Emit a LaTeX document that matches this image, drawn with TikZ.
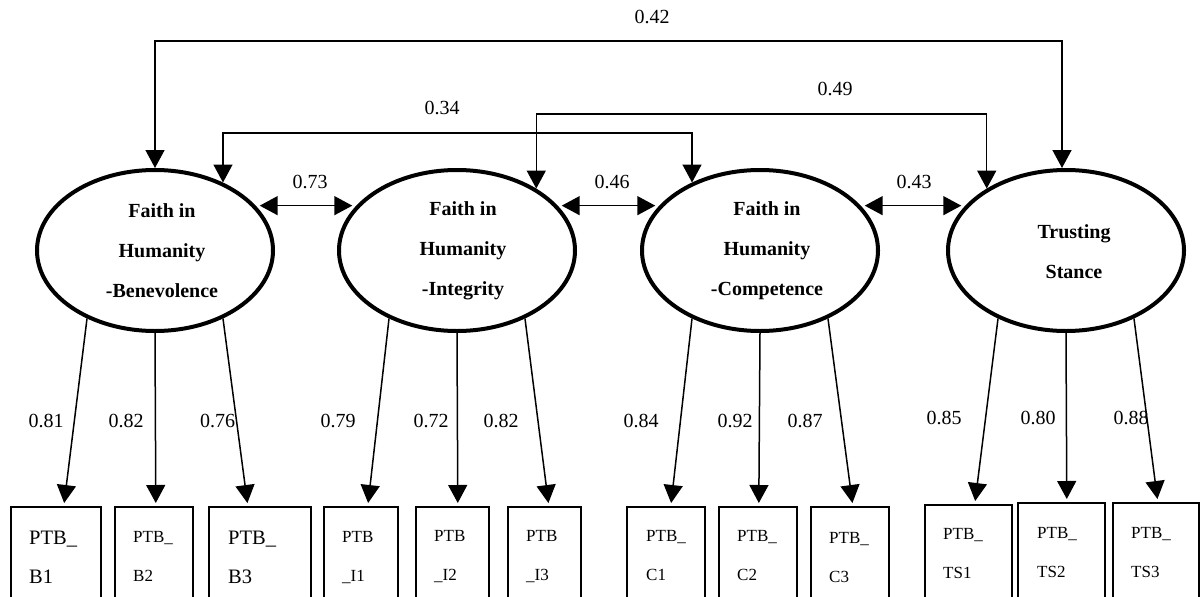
\documentclass[tikz,border=0pt]{standalone}
\usepackage{fontspec}
\setmainfont{Liberation Serif}
\usetikzlibrary{arrows.meta,shapes.geometric,calc}
\begin{document}
\begin{tikzpicture}[x=1pt,y=-1pt,
  latent/.style={ellipse, draw, line width=4pt, minimum width=236pt, minimum height=161pt, inner sep=0pt},
  lattext/.style={align=center, font=\fontsize{20}{40}\selectfont\bfseries, inner sep=0pt},
  obs/.style={rectangle, draw, line width=1.6pt, anchor=north west, minimum height=130pt, inner sep=0pt},
  itemA/.style={anchor=west, align=left, inner sep=0pt, font=\fontsize{20.5}{39}\selectfont},
  itemB/.style={anchor=west, align=left, inner sep=0pt, font=\fontsize{17}{39}\selectfont},
  load/.style={line width=1.5pt, -{Triangle[length=18pt,width=19pt]}, shorten >=3pt},
  cov/.style={line width=1.5pt, {Triangle[length=18pt,width=19pt]}-{Triangle[length=18pt,width=19pt]}},
  coef/.style={font=\fontsize{20}{24}\selectfont, inner sep=0pt},
]
\useasboundingbox (0,0) rectangle (1200,597);
\clip (0,0) rectangle (1200,597);

% latent factors
\node[latent] (E1) at (155,250.5) {};
\node[latent] (E2) at (457,250.5) {};
\node[latent] (E3) at (760,250.5) {};
\node[latent] (E4) at (1066,250.5) {};
\node[lattext] (t1) at ([xshift=7pt]E1.center) {Faith in\\Humanity\\-Benevolence};
\node[lattext] (t2) at ([xshift=6pt]E2.center) {Faith in\\Humanity\\-Integrity};
\node[lattext] (t3) at ([xshift=7pt]E3.center) {Faith in\\Humanity\\-Competence};
\node[lattext] (t4) at ([xshift=8pt,yshift=-1pt]E4.center) {Trusting\\Stance};

% observed indicators
\node[obs, minimum width=90pt] (b1) at (10,506) {};
\node[obs, minimum width=78pt] (b2) at (114,506) {};
\node[obs, minimum width=102pt] (b3) at (208,506) {};
\node[obs, minimum width=74pt] (i1) at (323,506) {};
\node[obs, minimum width=73pt] (i2) at (415,506) {};
\node[obs, minimum width=73pt] (i3) at (507,506) {};
\node[obs, minimum width=78pt] (c1) at (626,506) {};
\node[obs, minimum width=78pt] (c2) at (718,506) {};
\node[obs, minimum width=78pt] (c3) at (810,506) {};
\node[obs, minimum width=87pt] (s1) at (924,504) {};
\node[obs, minimum width=87pt] (s2) at (1017,502) {};
\node[obs, minimum width=86pt] (s3) at (1112,502) {};

\node[itemA] (lb1) at ($(b1.north west)+(19,51.5)$) {PTB\_\\B1};
\node[itemB] (lb2) at ($(b2.north west)+(19,50.5)$) {PTB\_\\B2};
\node[itemA] (lb3) at ($(b3.north west)+(20,51.5)$) {PTB\_\\B3};
\node[itemB] (li1) at ($(i1.north west)+(19,51.5)$) {PTB\\\_I1};
\node[itemB] (li2) at ($(i2.north west)+(19,51)$) {PTB\\\_I2};
\node[itemB] (li3) at ($(i3.north west)+(19,51)$) {PTB\\\_I3};
\node[itemB] (lc1) at ($(c1.north west)+(20,50)$) {PTB\_\\C1};
\node[itemB] (lc2) at ($(c2.north west)+(19,50)$) {PTB\_\\C2};
\node[itemB] (lc3) at ($(c3.north west)+(19,51.5)$) {PTB\_\\C3};
\node[itemB] (ls1) at ($(s1.north west)+(19,49.5)$) {PTB\_\\TS1};
\node[itemB] (ls2) at ($(s2.north west)+(20,50.5)$) {PTB\_\\TS2};
\node[itemB] (ls3) at ($(s3.north west)+(19,50.5)$) {PTB\_\\TS3};

% factor loadings
\draw[load] (E1.225) -- ([xshift=8pt]b1.north);
\draw[load] (E1.south) -- ([xshift=2pt]b2.north);
\draw[load] (E1.315) -- ([xshift=-12pt]b3.north);
\draw[load] (E2.225) -- ([xshift=7pt]i1.north);
\draw[load] (E2.south) -- ([xshift=5.5pt]i2.north);
\draw[load] (E2.315) -- ([xshift=4.5pt]i3.north);
\draw[load] (E3.225) -- ([xshift=5pt]c1.north);
\draw[load] (E3.south) -- ([xshift=1pt]c2.north);
\draw[load] (E3.315) -- ([xshift=3pt]c3.north);
\draw[load] (E4.225) -- ([xshift=6.5pt]s1.north);
\draw[load] (E4.south) -- ([xshift=5.5pt]s2.north);
\draw[load] (E4.315) -- ([xshift=2pt]s3.north);

\node[coef] (l81) at (46,421) {0.81};
\node[coef] (l82a) at (126,421) {0.82};
\node[coef] (l76) at (217.5,421) {0.76};
\node[coef] (l79) at (338,421) {0.79};
\node[coef] (l72) at (431,421) {0.72};
\node[coef] (l82b) at (501,421) {0.82};
\node[coef] (l84) at (641,421) {0.84};
\node[coef] (l92) at (735,421) {0.92};
\node[coef] (l87) at (805,421) {0.87};
\node[coef] (l85) at (944,418) {0.85};
\node[coef] (l80) at (1038,418) {0.80};
\node[coef] (l88) at (1131,418) {0.88};

% correlations between neighbouring factors
\draw[cov, shorten <=4pt, shorten >=4pt] (E1.24) -- (E2.156);
\draw[cov, shorten <=4pt, shorten >=4pt] (E2.24) -- (E3.156);
\draw[cov, shorten <=4pt, shorten >=4pt] (E3.24) -- (E4.156);
\node[coef] (r73) at (310,182) {0.73};
\node[coef] (r46) at (612,182) {0.46};
\node[coef] (r43) at (914,182) {0.43};

% correlations drawn over the top
\coordinate (lev42) at (0,41);
\coordinate (lev49) at (0,114);
\coordinate (lev34) at (0,133);
\draw[cov] (E1.north) -- (E1.north |- lev42) -| ([xshift=-4pt]E4.north);
\draw[cov] (E1.45) -- (E1.45 |- lev34) -| (E3.135);
\draw[cov] (E2.38) -- (E2.38 |- lev49) -| (E4.142);
\node[coef] (r42) at (652,17) {0.42};
\node[coef] (r49) at (835,89) {0.49};
\node[coef] (r34) at (442,108) {0.34};
\end{tikzpicture}
\end{document}
